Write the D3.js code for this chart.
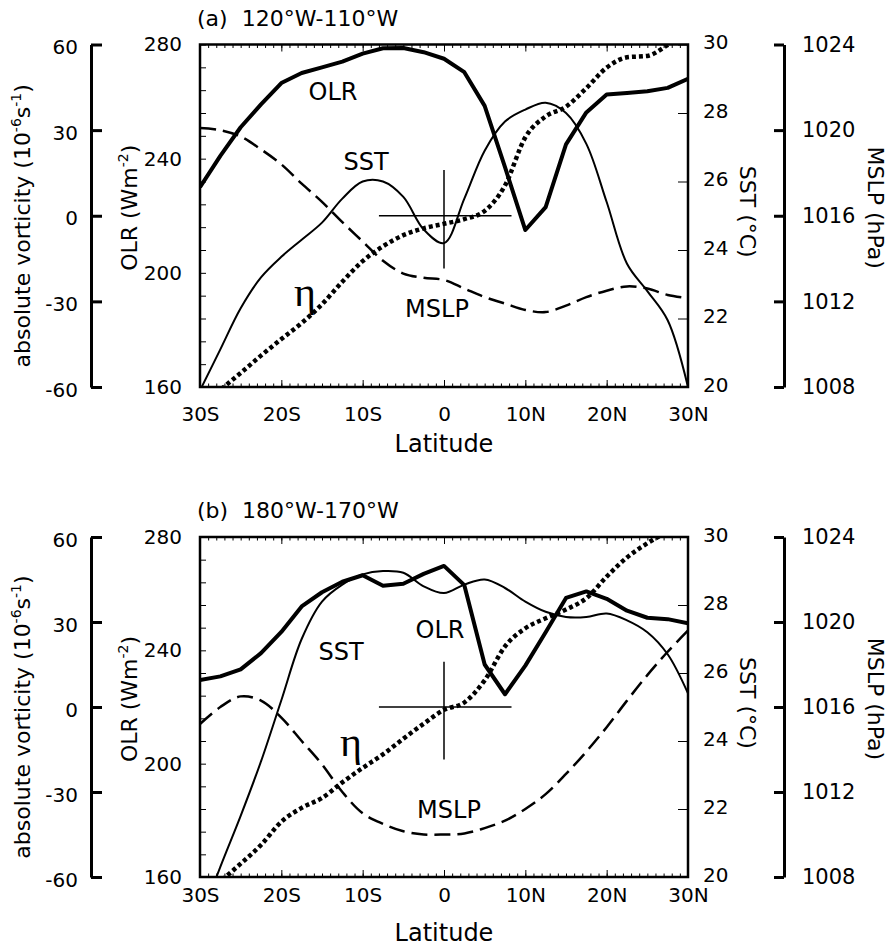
<!DOCTYPE html>
<html>
<head>
<meta charset='utf-8'>
<title>OLR, SST, MSLP and absolute vorticity against latitude</title>
<script src='https://cdn.jsdelivr.net/npm/d3@7'></script>
<style>
  body { margin: 0; background: #fff; }
  svg { font-family: 'DejaVu Sans', sans-serif; }
  .axis text { font-size: 20px; fill: #000; font-family: 'DejaVu Sans', sans-serif; }
  .axis line, .axis path { stroke: #000; }
</style>
</head>
<body>
<svg id='chart' width='890' height='949'></svg>
<script>
// latitude grid (negative = south)
const lats = [-30, -27.5, -25, -22.5, -20, -17.5, -15, -12.5, -10, -7.5, -5, -2.5, 0,
              2.5, 5, 7.5, 10, 12.5, 15, 17.5, 20, 22.5, 25, 27.5, 30];

// (a) 120W-110W
const olrA  = [230, 241, 251, 259, 266.5, 270, 272, 274, 276.8, 278.7, 278.8, 277.3, 275,
               270.3, 258.5, 237, 215, 223, 245, 256.2, 262.5, 263, 263.6, 264.8, 268];
const sstA  = [19.9, 21.1, 22.3, 23.2, 23.8, 24.3, 24.8, 25.5, 26.0, 26.0, 25.55, 24.6, 24.2,
               25.5, 26.9, 27.75, 28.1, 28.3, 28.0, 27.1, 25.4, 23.6, 22.8, 21.95, 20.0];
const mslpA = [1020.1, 1020.0, 1019.7, 1019.1, 1018.4, 1017.5, 1016.65, 1015.7, 1014.8, 1013.9, 1013.3, 1013.1, 1013.0,
               1012.6, 1012.2, 1011.9, 1011.6, 1011.5, 1011.8, 1012.2, 1012.5, 1012.7, 1012.6, 1012.3, 1012.15];
const etaA  = [-67, -61, -55.1, -49, -43.2, -37.6, -31, -23.1, -15.9, -10.7, -6.8, -4.4, -2.8,
               -1.2, 1.7, 10.6, 27.5, 34.8, 38.2, 44.7, 51.9, 55.5, 56.0, 59.8, 64];

// (b) 180W-170W
const olrB  = [229.5, 230.8, 233.3, 239, 246.5, 255.5, 260.5, 264.2, 266.5, 262.8, 263.5, 267, 269.8,
               263, 235, 224.5, 234.6, 246.4, 258.5, 260.8, 258.2, 254, 251.5, 251, 249.5];
const sstB  = [18.7, 20.3, 21.8, 23.4, 25.2, 27.0, 28.1, 28.6, 28.9, 29.0, 28.95, 28.55, 28.35,
               28.6, 28.75, 28.5, 28.1, 27.8, 27.65, 27.65, 27.75, 27.55, 27.2, 26.55, 25.4];
const mslpB = [1015.2, 1016.0, 1016.5, 1016.3, 1015.5, 1014.4, 1013.3, 1012.0, 1011.0, 1010.5, 1010.15, 1010.0, 1010.0,
               1010.05, 1010.3, 1010.65, 1011.2, 1011.9, 1012.85, 1013.9, 1015.05, 1016.3, 1017.5, 1018.6, 1019.6];
const etaB  = [-67, -61.5, -55.3, -48.7, -40.5, -35.6, -32.1, -26.6, -21.5, -16.7, -11.2, -5.9, -1.0,
               1.6, 9.4, 21.4, 27.8, 31.3, 34.4, 38.4, 46, 52.8, 57.8, 61.9, 66];

// ticks
const latTicks = [-30, -20, -10, 0, 10, 20, 30];
const latTickLabels = ['30S', '20S', '10S', '0', '10N', '20N', '30N'];
const olrTicks = [160, 200, 240, 280];
const sstTicks = [20, 22, 24, 26, 28, 30];
const mslpTicks = [1008, 1012, 1016, 1020, 1024];
const vortTicks = [-60, -30, 0, 30, 60];

// the crosshair marks (0, 0) on the latitude / vorticity axes
const crossLat = [-8, 8.3];
const crossVort = [-18.5, 16];

const svg = d3.select('#chart');
const X0 = 200, X1 = 688;
const plain = d => String(d);  // hyphen minus, no thousands separator

function drawPanel(p) {
    const g = svg.append('g');
    const x = d3.scaleLinear().domain([-30, 30]).range([X0, X1]);
    const yOlr = d3.scaleLinear().domain([160, 280]).range([p.bottom, p.top]);
    const ySst = d3.scaleLinear().domain([20, 30]).range([p.bottom, p.top]);
    const yMslp = d3.scaleLinear().domain([1008, 1024]).range([p.bottom, p.top]);
    const yVort = d3.scaleLinear().domain([-60, 60]).range([p.bottom, p.top]);

    g.append('clipPath').attr('id', p.id + '-clip')
        .append('rect')
            .attr('x', X0).attr('y', p.top)
            .attr('width', X1 - X0).attr('height', p.bottom - p.top);

    // curves
    const plot = g.append('g').attr('clip-path', `url(#${p.id}-clip)`);
    const series = [
        { vals: p.olr, y: yOlr, w: 4, dash: null, curve: d3.curveLinear },
        { vals: p.sst, y: ySst, w: 2, dash: null, curve: d3.curveCatmullRom.alpha(0.5) },
        { vals: p.mslp, y: yMslp, w: 2.5, dash: '16,7', curve: d3.curveCatmullRom.alpha(0.5) },
        { vals: p.eta, y: yVort, w: 4.5, dash: '4,3', curve: d3.curveMonotoneX }
    ];
    series.forEach(s => {
        const line = d3.line()
            .x((d, i) => x(lats[i]))
            .y(d => s.y(d))
            .curve(s.curve);
        plot.append('path')
            .datum(s.vals)
            .attr('fill', 'none')
            .attr('stroke', '#000')
            .attr('stroke-width', s.w)
            .attr('stroke-linejoin', 'round')
            .attr('stroke-dasharray', s.dash)
            .attr('d', line);
    });

    // crosshair
    g.append('line')
        .attr('x1', x(crossLat[0])).attr('x2', x(crossLat[1]))
        .attr('y1', yVort(0)).attr('y2', yVort(0))
        .attr('stroke', '#000').attr('stroke-width', 1.5);
    g.append('line')
        .attr('x1', x(0)).attr('x2', x(0))
        .attr('y1', yVort(crossVort[0])).attr('y2', yVort(crossVort[1]))
        .attr('stroke', '#000').attr('stroke-width', 1.5);

    // frame
    g.append('rect')
        .attr('x', X0).attr('y', p.top)
        .attr('width', X1 - X0).attr('height', p.bottom - p.top)
        .attr('fill', 'none').attr('stroke', '#000').attr('stroke-width', 2.5);

    const noDomain = s => s.select('.domain').remove();
    const axisG = () => g.append('g').attr('class', 'axis');

    // latitude ticks, bottom and top
    const minorLat = d3.range(-30, 31, 1);
    axisG().attr('transform', `translate(0,${p.bottom})`)
        .call(d3.axisBottom(x).tickValues(minorLat).tickSizeInner(-3.5).tickSizeOuter(0).tickFormat(''))
        .call(noDomain);
    axisG().attr('transform', `translate(0,${p.bottom})`)
        .call(d3.axisBottom(x).tickValues(latTicks).tickSizeInner(-7).tickSizeOuter(0)
            .tickPadding(p.xPad).tickFormat((d, i) => latTickLabels[i]))
        .call(noDomain);
    axisG().attr('transform', `translate(0,${p.top})`)
        .call(d3.axisTop(x).tickValues(minorLat).tickSizeInner(-3.5).tickSizeOuter(0).tickFormat(''))
        .call(noDomain);
    axisG().attr('transform', `translate(0,${p.top})`)
        .call(d3.axisTop(x).tickValues(latTicks).tickSizeInner(-7).tickSizeOuter(0).tickFormat(''))
        .call(noDomain);

    // OLR on the left edge of the frame
    axisG().attr('transform', `translate(${X0},0)`)
        .call(d3.axisRight(yOlr).tickValues(d3.range(160, 281, 8)).tickSize(6).tickFormat(''))
        .call(noDomain);
    axisG().attr('transform', `translate(${X0},0)`)
        .call(d3.axisLeft(yOlr).tickValues(olrTicks).tickSize(0).tickPadding(18).tickFormat(plain))
        .call(noDomain);

    // SST on the right edge of the frame
    axisG().attr('transform', `translate(${X1},0)`)
        .call(d3.axisRight(ySst).tickValues(sstTicks).tickSizeInner(-10).tickSizeOuter(0)
            .tickPadding(15).tickFormat(plain))
        .call(noDomain)
        .selectAll('text').attr('dy', '0.2em');

    // absolute vorticity, detached axis on the far left
    const gV = axisG().attr('transform', 'translate(91,0)')
        .call(d3.axisLeft(yVort).tickValues(vortTicks).tickSizeInner(-11).tickSizeOuter(0)
            .tickPadding(13).tickFormat(plain));
    gV.selectAll('line, path').attr('stroke-width', 3);
    gV.selectAll('text').attr('dy', '0.45em');

    // MSLP, detached axis on the far right
    const gM = axisG().attr('transform', 'translate(784,0)')
        .call(d3.axisRight(yMslp).tickValues(mslpTicks).tickSizeInner(-10).tickSizeOuter(0)
            .tickPadding(18).tickFormat(plain));
    gM.selectAll('line, path').attr('stroke-width', 3);
    gM.selectAll('text').style('font-size', '21px');

    // title
    g.append('text')
        .attr('x', 197).attr('y', p.titleY)
        .style('font-size', '22px').style('white-space', 'pre')
        .text(p.title);

    // axis titles
    const mid = (p.top + p.bottom) / 2;
    const vt = g.append('text')
        .attr('transform', `translate(30,${mid + 10}) rotate(-90)`)
        .attr('text-anchor', 'middle').style('font-size', '22px');
    vt.append('tspan').text('absolute vorticity (10');
    vt.append('tspan').attr('dy', -9).style('font-size', '14px').text('-6');
    vt.append('tspan').attr('dy', 9).text('s');
    vt.append('tspan').attr('dy', -9).style('font-size', '14px').text('-1');
    vt.append('tspan').attr('dy', 9).text(')');

    const ot = g.append('text')
        .attr('transform', `translate(137,${mid - 8}) rotate(-90)`)
        .attr('text-anchor', 'middle').style('font-size', '22px');
    ot.append('tspan').text('OLR (Wm');
    ot.append('tspan').attr('dy', -9).style('font-size', '14px').text('-2');
    ot.append('tspan').attr('dy', 9).text(')');

    g.append('text')
        .attr('transform', `translate(740,${mid - 4}) rotate(90)`)
        .attr('text-anchor', 'middle').style('font-size', '22px')
        .text('SST (°C)');
    g.append('text')
        .attr('transform', `translate(868,${mid - 8}) rotate(90)`)
        .attr('text-anchor', 'middle').style('font-size', '22px')
        .text('MSLP (hPa)');

    g.append('text')
        .attr('x', (X0 + X1) / 2).attr('y', p.latY)
        .attr('text-anchor', 'middle').style('font-size', '24px')
        .text('Latitude');

    // curve labels
    p.labels.forEach(l => {
        g.append('text')
            .attr('x', l.x).attr('y', l.y)
            .attr('text-anchor', 'middle')
            .style('font-size', l.serif ? '42px' : '24px')
            .style('font-family', l.serif ? "'Liberation Serif', serif" : null)
            .text(l.t);
    });
}

drawPanel({
    id: 'a', top: 44.5, bottom: 387, titleY: 26, latY: 452, xPad: 19.5,
    title: '(a)  120°W-110°W',
    olr: olrA, sst: sstA, mslp: mslpA, eta: etaA,
    labels: [
        { t: 'OLR', x: 333, y: 100 },
        { t: 'SST', x: 366, y: 170 },
        { t: 'MSLP', x: 437, y: 317 },
        { t: 'η', x: 305, y: 306, serif: true }
    ]
});

drawPanel({
    id: 'b', top: 537, bottom: 877, titleY: 518, latY: 941, xPad: 11,
    title: '(b)  180°W-170°W',
    olr: olrB, sst: sstB, mslp: mslpB, eta: etaB,
    labels: [
        { t: 'SST', x: 341, y: 660 },
        { t: 'OLR', x: 440, y: 638 },
        { t: 'MSLP', x: 449, y: 818 },
        { t: 'η', x: 351, y: 756, serif: true }
    ]
});
</script>
</body>
</html>
